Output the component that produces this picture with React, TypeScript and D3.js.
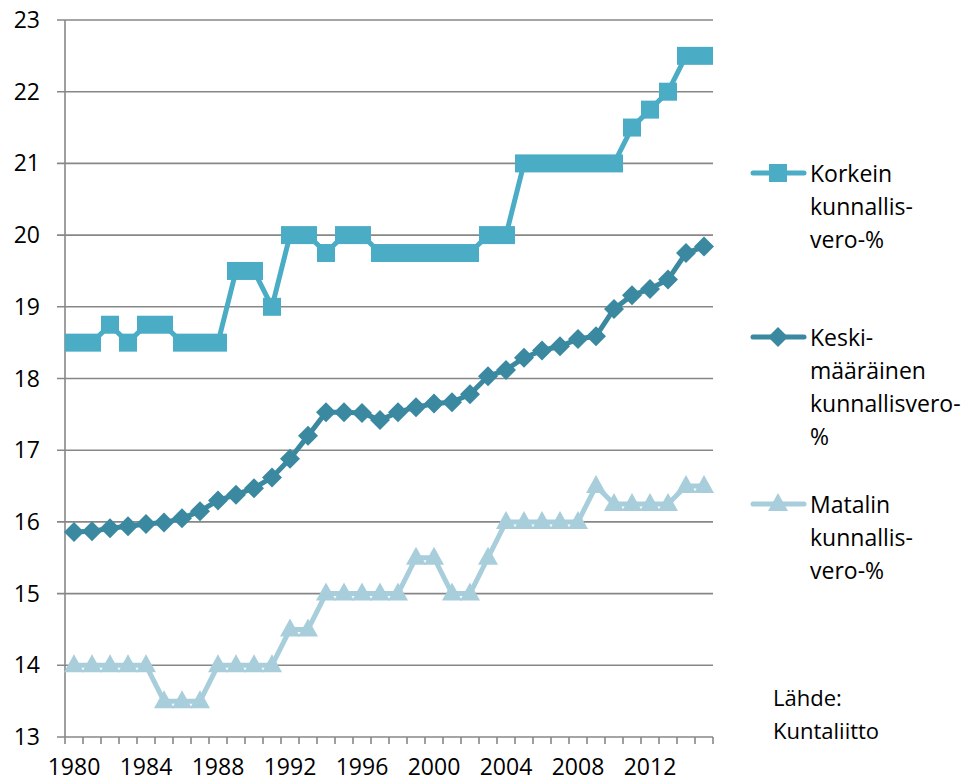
import React from 'react';
import * as d3 from 'd3';

const years = d3.range(1980, 2016);
const highest = [18.5, 18.5, 18.75, 18.5, 18.75, 18.75, 18.5, 18.5, 18.5, 19.5, 19.5, 19.0, 20, 20, 19.75, 20, 20, 19.75, 19.75, 19.75, 19.75, 19.75, 19.75, 20, 20, 21, 21, 21, 21, 21, 21, 21.5, 21.75, 22, 22.5, 22.5];
const average = [15.86, 15.87, 15.91, 15.94, 15.97, 15.99, 16.05, 16.15, 16.3, 16.38, 16.47, 16.62, 16.88, 17.2, 17.53, 17.53, 17.52, 17.42, 17.53, 17.6, 17.65, 17.67, 17.78, 18.03, 18.12, 18.29, 18.39, 18.45, 18.55, 18.59, 18.97, 19.16, 19.25, 19.38, 19.75, 19.84];
const lowest = [14, 14, 14, 14, 14, 13.5, 13.5, 13.5, 14, 14, 14, 14, 14.5, 14.5, 15, 15, 15, 15, 15, 15.5, 15.5, 15, 15, 15.5, 16, 16, 16, 16, 16, 16.5, 16.25, 16.25, 16.25, 16.25, 16.5, 16.5];
const yTicks = d3.range(13, 24);
const xLabels = [1980, 1984, 1988, 1992, 1996, 2000, 2004, 2008, 2012];

const seriesNames = [
  ['Korkein', 'kunnallis-', 'vero-%'],
  ['Keski-', 'määräinen', 'kunnallisvero-', '%'],
  ['Matalin', 'kunnallis-', 'vero-%'],
];
const source = ['Lähde:', 'Kuntaliitto'];

const colors = ['#4BACC6', '#3A89A0', '#A8CEDB'];
const font = '"Open Sans", sans-serif';

const W = 966, H = 782;
const left = 65, right = 713, top = 20, bottom = 737;

function Marker({kind, x, y, color}: {kind: string, x: number, y: number, color: string}) {
  if (kind === 'square') return <rect x={x - 9} y={y - 9} width={18} height={18} fill={color} />;
  if (kind === 'diamond') return <polygon points={`${x},${y - 10} ${x + 10},${y} ${x},${y + 10} ${x - 10},${y}`} fill={color} />;
  return <polygon points={`${x},${y - 11} ${x + 10},${y + 7} ${x - 10},${y + 7}`} fill={color} />;
}

export default function App() {
  const x = d3.scaleBand<number>().domain(years).range([left, right]);
  const y = d3.scaleLinear().domain([13, 23]).range([bottom, top]);
  const cx = (yr: number) => (x(yr) as number) + x.bandwidth() / 2;
  const line = d3.line<number>().x((d, i) => cx(years[i])).y(d => y(d));
  const data = [highest, average, lowest];
  const kinds = ['square', 'diamond', 'triangle'];
  const legendY = [173, 337, 504];
  const tickXs = years.map(yr => x(yr) as number).concat([right]);

  return (
    <svg width={W} height={H} style={{position: 'absolute', left: 0, top: 0}} fontFamily={font}>
      {yTicks.map(t => (
        <g key={t}>
          <line x1={left - 8} x2={right} y1={y(t)} y2={y(t)} stroke="#878787" strokeWidth={1.6} />
          <text x={40} y={y(t) + 8} textAnchor="end" fontSize={23} fill="#000">{t}</text>
        </g>
      ))}
      <line x1={left} x2={left} y1={top} y2={bottom} stroke="#878787" strokeWidth={1.6} />
      {tickXs.map((tx, i) => (
        <line key={i} x1={tx} x2={tx} y1={bottom} y2={bottom + 7} stroke="#878787" strokeWidth={1.6} />
      ))}
      {xLabels.map(yr => (
        <text key={yr} x={cx(yr)} y={775} textAnchor="middle" fontSize={23} fill="#000">{yr}</text>
      ))}
      {data.map((vals, s) => (
        <g key={s}>
          <path d={line(vals) || ''} fill="none" stroke={colors[s]} strokeWidth={5} strokeLinejoin="round" />
          {vals.map((v, i) => <Marker key={i} kind={kinds[s]} x={cx(years[i])} y={y(v)} color={colors[s]} />)}
        </g>
      ))}
      {seriesNames.map((lines, s) => (
        <g key={s}>
          <line x1={753} x2={804} y1={legendY[s]} y2={legendY[s]} stroke={colors[s]} strokeWidth={5} strokeLinecap="round" />
          <Marker kind={kinds[s]} x={778} y={legendY[s]} color={colors[s]} />
          {lines.map((t, j) => (
            <text key={j} x={810} y={legendY[s] + 9 + j * 33} fontSize={23} fill="#000">{t}</text>
          ))}
        </g>
      ))}
      {source.map((t, j) => (
        <text key={j} x={773} y={706 + j * 33} fontSize={22} fill="#000">{t}</text>
      ))}
    </svg>
  );
}
